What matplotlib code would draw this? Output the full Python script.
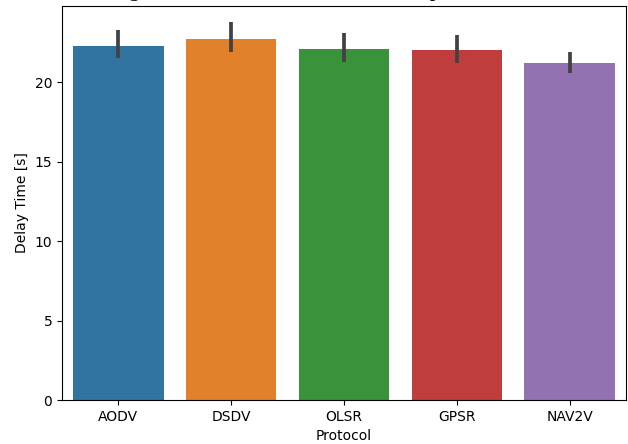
import matplotlib
matplotlib.use("Agg")
import matplotlib.pyplot as plt

protocols = ["AODV", "DSDV", "OLSR", "GPSR", "NAV2V"]
mean_delay = [22.3, 22.7, 22.1, 22.05, 21.2]
ci_low = [21.5, 21.9, 21.3, 21.2, 20.6]
ci_high = [23.3, 23.8, 23.1, 23.0, 21.9]
colors = ["#3274a1", "#e1812c", "#3a923a", "#c03d3e", "#9372b2"]

fig = plt.figure(figsize=(6.28, 4.44), dpi=100)
ax = fig.add_axes([62/628, 1-400/444, (626-62)/628, (400-6)/444])

x = list(range(len(protocols)))
ax.bar(x, mean_delay, width=0.8, color=colors)
ax.vlines(x, ci_low, ci_high, color="#424242", linewidth=2.7)
ax.set_xticks(x)
ax.set_xticklabels(protocols)
ax.set_xlim(-0.5, len(protocols) - 0.5)
ax.set_ylim(0, 24.8)
ax.set_xlabel("Protocol")
ax.set_ylabel("Delay Time [s]")

fig.text(0.5, 1.009, "Average Transmission Time in the Complex Scenario",
         ha="center", va="baseline", fontsize=16, family="Liberation Serif")

fig.savefig("out.png", dpi=100)
